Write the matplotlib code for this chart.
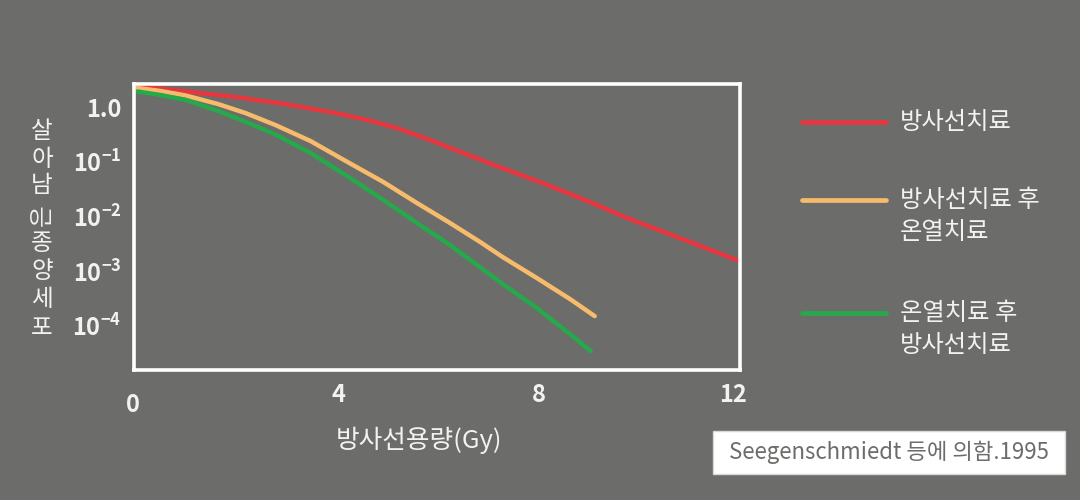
import matplotlib
matplotlib.use("Agg")
import matplotlib.pyplot as plt
from matplotlib.patches import Rectangle
from matplotlib.transforms import ScaledTranslation

plt.rcParams["font.family"] = ["Noto Sans CJK KR", "DejaVu Sans"]
plt.rcParams["axes.unicode_minus"] = False

BG = "#6c6c6a"
FG = "#f2f2f2"
C_RT = "#e8363f"
C_RT_HT = "#f7bb6c"
C_HT_RT = "#25a94b"

# dose (Gy) and surviving fraction
dose_rt = [0.0, 0.96, 1.95, 2.95, 3.94, 4.54, 5.17, 5.83, 6.49, 7.16, 8.02, 8.92, 9.81, 10.91, 12.0]
surv_rt = [2.44, 1.94, 1.54, 1.14, 0.783, 0.596, 0.416, 0.251, 0.145, 0.0838, 0.0427, 0.0200, 0.00896, 0.00370, 0.00152]

dose_rt_ht = [0.0, 0.46, 0.96, 1.61, 2.15, 2.75, 3.45, 4.24, 4.90, 5.57, 6.23, 6.83, 7.28, 7.96, 8.62, 9.11]
surv_rt_ht = [2.25, 1.98, 1.64, 1.14, 0.783, 0.472, 0.240, 0.0931, 0.0427, 0.0176, 0.00757, 0.00340, 0.00180, 0.000744, 0.000307, 0.000150]

dose_ht_rt = [0.0, 0.46, 0.96, 1.61, 2.15, 2.75, 3.45, 4.24, 4.90, 5.57, 6.23, 6.77, 7.28, 7.96, 8.62, 9.03]
surv_ht_rt = [1.94, 1.67, 1.36, 0.852, 0.542, 0.316, 0.145, 0.0505, 0.0200, 0.00757, 0.00299, 0.00129, 0.000578, 0.000210, 0.0000701, 0.0000343]

x_ticks = [0, 4, 8, 12]
y_ticks = [1.0, 1e-1, 1e-2, 1e-3, 1e-4]
y_tick_labels = ["1.0", r"$\mathregular{10^{-1}}$", r"$\mathregular{10^{-2}}$",
                 r"$\mathregular{10^{-3}}$", r"$\mathregular{10^{-4}}$"]

series = [
    (dose_rt, surv_rt, C_RT, ["방사선치료"]),
    (dose_rt_ht, surv_rt_ht, C_RT_HT, ["방사선치료 후", "온열치료"]),
    (dose_ht_rt, surv_ht_rt, C_HT_RT, ["온열치료 후", "방사선치료"]),
]

fig = plt.figure(figsize=(10.8, 5.0), dpi=100, facecolor=BG)
ax = fig.add_axes([0.124, 0.26, 0.561, 0.572])
ax.set_facecolor(BG)

for xs, ys, c, _ in series:
    ax.plot(xs, ys, color=c, lw=3.2, solid_capstyle="round", solid_joinstyle="round")

ax.set_yscale("log")
ax.set_xlim(-0.07, 12.0)
ax.set_ylim(10 ** -4.81, 10 ** 0.425)
ax.minorticks_off()
ax.set_xticks(x_ticks)
ax.set_xticklabels([str(t) for t in x_ticks])
ax.set_yticks(y_ticks)
ax.set_yticklabels(y_tick_labels)
ax.tick_params(length=0, colors=FG, labelsize=17)
ax.tick_params(axis="x", pad=9)
ax.tick_params(axis="y", pad=9)
for lbl in ax.get_xticklabels() + ax.get_yticklabels():
    lbl.set_fontweight("bold")
# "0" sits a bit lower, "12" a bit inward in the original
xl = ax.get_xticklabels()
xl[0].set_transform(xl[0].get_transform() + ScaledTranslation(-4 / 100, -10 / 100, fig.dpi_scale_trans))
xl[-1].set_transform(xl[-1].get_transform() + ScaledTranslation(-7 / 100, 0, fig.dpi_scale_trans))
for sp in ax.spines.values():
    sp.set_color("white")
    sp.set_linewidth(2.6)

# overlay in pixel units for labels, legend and source box
ov = fig.add_axes([0, 0, 1, 1], facecolor="none")
ov.set_xlim(0, 1080); ov.set_ylim(500, 0); ov.axis("off")

# y label, characters stacked upright
ylab_chars = ["살", "아", "남", "은", "종", "양", "세", "포"]
ylab_y = [132, 159, 186, 215, 243, 272, 300, 328]
for ch, yy in zip(ylab_chars, ylab_y):
    ov.text(42, yy, ch, ha="center", va="center", color=FG, fontsize=17,
            rotation=90 if ch == "은" else 0)

ov.text(419, 440, "방사선용량(Gy)", ha="center", va="center", color=FG, fontsize=18.5)

leg_y = [122, 200, 313]
for (xs, ys, c, lines), yy in zip(series, leg_y):
    ov.plot([802, 886], [yy, yy], color=c, lw=3.4, solid_capstyle="round")
    for i, line in enumerate(lines):
        ov.text(900, yy + 32 * i, line, ha="left", va="center", color=FG, fontsize=17.5)

# source box
ov.add_patch(Rectangle((713, 431), 352, 43, fc="white", ec="#d8d8d8", lw=1))
ov.text(889, 452.5, "Seegenschmiedt 등에 의함.1995", ha="center", va="center",
        color="#6c6c6a", fontsize=16)

fig.savefig("out.png", dpi=100, facecolor=BG)
